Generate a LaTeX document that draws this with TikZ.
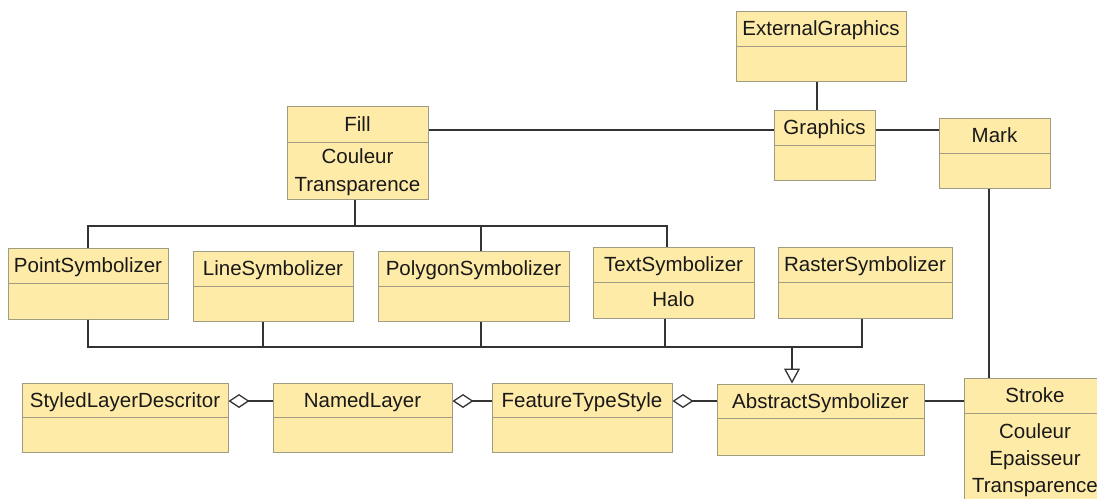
\documentclass[tikz,border=0pt]{standalone}
\usepackage{fontspec}
\setmainfont{Liberation Sans}
\usetikzlibrary{arrows.meta,fit}
\definecolor{boxfill}{RGB}{255,235,168}
\definecolor{boxline}{RGB}{160,156,130}
\definecolor{connc}{RGB}{51,51,51}
\definecolor{txtc}{RGB}{25,25,25}
\newcommand\umlcls[7]{%
  \node[clsbox, fit={(#2,#3) (#4,#5)}] (#1) {};
  \draw[divl] (#2,#6) -- (#4,#6);
  \node[lbl] (#1-t) at ({(#2+#4)/2},{(#3+#6)/2+7.2}) {#7};
}
\begin{document}
\begin{tikzpicture}[x=1pt,y=-1pt,
  clsbox/.style={draw=boxline, fill=boxfill, line width=1pt, inner sep=0pt, rectangle},
  divl/.style={draw=boxline, line width=1pt},
  lbl/.style={inner sep=0pt, anchor=base, font=\fontsize{20.5}{24}\selectfont, text=txtc},
  conn/.style={draw=connc, line width=1.5pt},
  agg/.style={conn, -{Diamond[open, length=21pt, width=14pt, fill=white, line width=1.3pt]}},
  gen/.style={conn, -{Triangle[open, length=15pt, width=16pt, fill=white, line width=1.3pt]}}]
\useasboundingbox (0,0) rectangle (1097,498);
\clip (0,0) rectangle (1097,498);
\fill[white] (0,0) rectangle (1097,498);

\umlcls{extg}{736}{11}{906}{81}{46}{ExternalGraphics}
\umlcls{gr}{774}{110}{875}{180}{145}{Graphics}
\umlcls{mark}{939}{118}{1050}{188}{153}{Mark}
\umlcls{fill}{287}{106}{428}{199}{142}{Fill}
\node[lbl] (fill-a1) at (357.5,163) {Couleur};
\node[lbl] (fill-a2) at (357.5,191) {Transparence};
\umlcls{ps}{8}{248}{168}{319}{283}{PointSymbolizer}
\umlcls{ls}{193}{251}{353}{321}{286}{LineSymbolizer}
\umlcls{pgs}{378}{251}{569}{321}{286}{PolygonSymbolizer}
\umlcls{ts}{593}{247}{754}{318}{282}{TextSymbolizer}
\node[lbl] (ts-a1) at (673.5,306) {Halo};
\umlcls{rs}{778}{247}{952}{318}{282}{RasterSymbolizer}
\umlcls{sld}{22}{383}{228}{452}{417}{StyledLayerDescritor}
\umlcls{nl}{273}{383}{452}{452}{417}{NamedLayer}
\umlcls{fts}{492}{383}{672}{452}{417}{FeatureTypeStyle}
\umlcls{abs}{717}{384}{924}{455}{418}{AbstractSymbolizer}
\umlcls{stroke}{964}{378}{1106}{520}{413}{Stroke}
\node[lbl] (stroke-a1) at (1035,438) {Couleur};
\node[lbl] (stroke-a2) at (1035,465) {Epaisseur};
\node[lbl] (stroke-a3) at (1035,492) {Transparence};

\coordinate (yg) at (0,130);
\coordinate (bus1) at (0,226);
\coordinate (bus2) at (0,347);
\coordinate (yagg) at (0,401);

\draw[conn] ([xshift=-4pt]extg.south) -- ([xshift=-4pt]extg.south |- gr.north);
\draw[conn] (fill.east |- yg) -- (gr.west |- yg);
\draw[conn, line width=2.4pt] (gr.east |- yg) -- (mark.west |- yg);
\draw[conn] ([xshift=-5.5pt]mark.south) -- ([xshift=-5.5pt]mark.south |- stroke.north);

\draw[conn] ([xshift=-2.5pt]fill.south) -- ([xshift=-2.5pt]fill.south |- bus1);
\draw[conn] (ps.north) |- ([xshift=-6.5pt]ts.north |- bus1) -- ([xshift=-6.5pt]ts.north);
\draw[conn] ([xshift=7.5pt]pgs.north) -- ([xshift=7.5pt]pgs.north |- bus1);

\draw[conn] (ps.south) |- ([xshift=-3pt]rs.south |- bus2) -- ([xshift=-3pt]rs.south);
\draw[conn] ([xshift=-10pt]ls.south) -- ([xshift=-10pt]ls.south |- bus2);
\draw[conn] ([xshift=7.5pt]pgs.south) -- ([xshift=7.5pt]pgs.south |- bus2);
\draw[conn] ([xshift=-8.5pt]ts.south) -- ([xshift=-8.5pt]ts.south |- bus2);
\draw[gen] ([xshift=-28.5pt]abs.north |- bus2) -- ([xshift=-28.5pt]abs.north);

\draw[agg] (nl.west |- yagg) -- (sld.east |- yagg);
\draw[agg] (fts.west |- yagg) -- (nl.east |- yagg);
\draw[agg] (abs.west |- yagg) -- (fts.east |- yagg);
\draw[conn] (abs.east |- yagg) -- (stroke.west |- yagg);
\end{tikzpicture}
\end{document}
